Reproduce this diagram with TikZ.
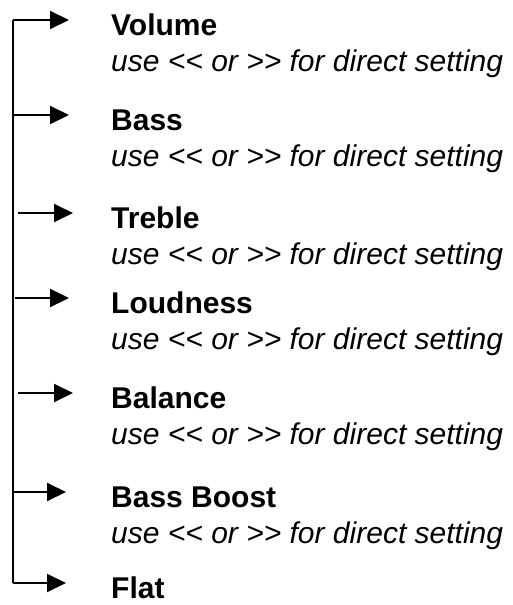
\documentclass[tikz,border=0pt]{standalone}
\usepackage{fontspec}
\setmainfont{Liberation Sans}
\usetikzlibrary{arrows.meta}
\begin{document}
\begin{tikzpicture}[x=1pt,y=-1pt,
  title/.style={anchor=base west,inner sep=0pt,font=\fontsize{30}{30}\selectfont\bfseries},
  hint/.style={anchor=base west,inner sep=0pt,font=\fontsize{30}{30}\selectfont\itshape},
  conn/.style={line width=2pt},
  arr/.style={line width=2pt,-{Triangle[length=19pt,width=18pt]}}]
\useasboundingbox (0,0) rectangle (512,605);
\coordinate (top) at (13,20);
\coordinate (bot) at (13,583);
\draw[conn] (top) -- (bot);
% items: arrow y, start x, tip x
\foreach \n/\t/\y/\sx/\tx/\hasuse in {1/Volume/20/13/69/1,2/Bass/115/13/69/1,3/Treble/213/18/73/1,4/Loudness/298/15/69/1,5/Balance/393/18/73/1,6/Bass Boost/492/13/66/1,7/Flat/583/13/66/0}{
  \coordinate (s\n) at (\sx,\y);
  \coordinate (e\n) at (\tx,\y);
  \draw[arr] (s\n) -- (e\n);
  \node[title] (t\n) at (111,\y+15) {\t};
  \ifnum\hasuse=1
    \node[hint] (u\n) at (111,\y+51) {use <{}< or >{}> for direct setting};
  \fi
}
\end{tikzpicture}
\end{document}
